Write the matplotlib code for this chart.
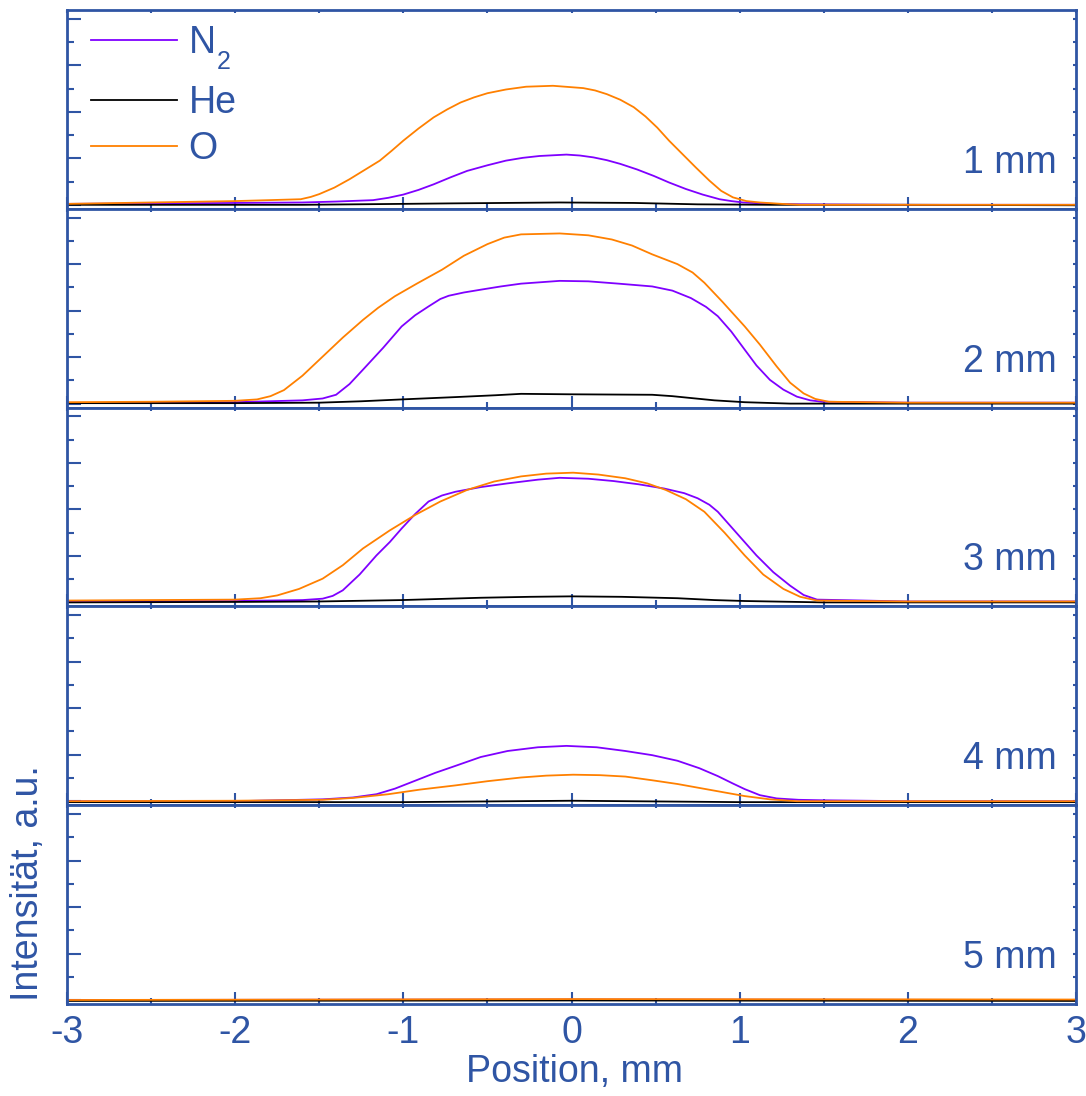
import matplotlib
matplotlib.use('Agg')
import matplotlib.pyplot as plt
from matplotlib.lines import Line2D
from matplotlib.ticker import MultipleLocator, NullFormatter

blue = '#2F55A4'
c_n2 = '#7F00FF'
c_he = '#000000'
c_o = '#FF8000'
fs = 27

plt.rcParams['font.family'] = ['Liberation Sans', 'DejaVu Sans']

labels = ['1 mm', '2 mm', '3 mm', '4 mm', '5 mm']
xticks = [-3, -2, -1, 0, 1, 2, 3]

# 1 mm
n2_1_x = [-3.0, -2.0, -1.6, -1.4, -1.18, -1.09, -1.0, -0.91, -0.82, -0.72, -0.62, -0.5, -0.39, -0.29, -0.19, -0.03, 0.05, 0.13, 0.21, 0.29, 0.39, 0.49, 0.58, 0.68, 0.78, 0.88, 0.95, 1.02, 1.2, 1.36, 2.0, 3.0]
n2_1_y = [0.02, 0.04, 0.05, 0.07, 0.10, 0.15, 0.22, 0.32, 0.44, 0.59, 0.73, 0.85, 0.95, 1.01, 1.05, 1.08, 1.06, 1.02, 0.96, 0.88, 0.76, 0.62, 0.48, 0.34, 0.22, 0.12, 0.08, 0.05, 0.02, 0.01, 0.0, 0.0]
he_1_x = [-3.0, -2.0, -1.6, -1.0, -0.73, -0.07, 0.37, 0.75, 1.2, 2.0, 3.0]
he_1_y = [0.0, 0.0, 0.0, 0.02, 0.03, 0.05, 0.04, 0.01, 0.0, 0.0, -0.01]
o_1_x = [-3.0, -2.0, -1.8, -1.61, -1.55, -1.5, -1.41, -1.32, -1.23, -1.14, -1.07, -1.0, -0.91, -0.82, -0.74, -0.66, -0.58, -0.5, -0.39, -0.27, -0.11, 0.07, 0.14, 0.21, 0.29, 0.37, 0.44, 0.51, 0.58, 0.66, 0.74, 0.82, 0.89, 0.96, 1.04, 1.12, 1.25, 1.36, 2.0, 3.0]
o_1_y = [0.02, 0.08, 0.10, 0.12, 0.17, 0.23, 0.37, 0.55, 0.75, 0.95, 1.16, 1.38, 1.64, 1.88, 2.05, 2.20, 2.31, 2.40, 2.48, 2.54, 2.56, 2.51, 2.46, 2.38, 2.26, 2.10, 1.90, 1.66, 1.38, 1.09, 0.80, 0.52, 0.30, 0.16, 0.08, 0.05, 0.02, 0.0, 0.0, 0.0]

# 2 mm
n2_2_x = [-3.0, -2.0, -1.6, -1.48, -1.40, -1.32, -1.24, -1.12, -1.01, -0.93, -0.85, -0.78, -0.73, -0.64, -0.54, -0.42, -0.3, -0.07, 0.1, 0.28, 0.48, 0.6, 0.71, 0.8, 0.87, 0.95, 1.03, 1.1, 1.18, 1.26, 1.34, 1.42, 1.49, 2.0, 3.0]
n2_2_y = [0.01, 0.03, 0.07, 0.11, 0.19, 0.42, 0.73, 1.20, 1.66, 1.90, 2.09, 2.25, 2.32, 2.39, 2.45, 2.52, 2.58, 2.64, 2.63, 2.58, 2.52, 2.43, 2.27, 2.08, 1.88, 1.55, 1.16, 0.82, 0.51, 0.30, 0.15, 0.07, 0.04, 0.02, 0.02]
he_2_x = [-3.0, -2.0, -1.5, -1.25, -1.01, -0.69, -0.45, -0.3, 0.0, 0.48, 0.6, 0.71, 0.85, 1.03, 1.3, 2.0, 3.0]
he_2_y = [0.01, 0.01, 0.02, 0.05, 0.09, 0.14, 0.18, 0.21, 0.20, 0.19, 0.16, 0.12, 0.07, 0.03, 0.0, 0.0, 0.0]
o_2_x = [-3.0, -2.5, -2.0, -1.87, -1.79, -1.71, -1.6, -1.48, -1.36, -1.24, -1.15, -1.05, -0.92, -0.77, -0.64, -0.5, -0.4, -0.3, -0.07, 0.1, 0.24, 0.36, 0.48, 0.63, 0.72, 0.79, 0.9, 1.03, 1.12, 1.22, 1.3, 1.38, 1.45, 1.53, 2.0, 3.0]
o_2_y = [0.03, 0.04, 0.06, 0.09, 0.16, 0.29, 0.60, 1.01, 1.42, 1.80, 2.06, 2.31, 2.58, 2.88, 3.18, 3.43, 3.57, 3.64, 3.66, 3.62, 3.53, 3.40, 3.21, 3.0, 2.82, 2.6, 2.18, 1.66, 1.27, 0.80, 0.45, 0.22, 0.10, 0.04, 0.02, 0.02]

# 3 mm
n2_3_x = [-3.0, -2.0, -1.6, -1.48, -1.42, -1.36, -1.26, -1.16, -1.08, -1.01, -0.93, -0.85, -0.77, -0.69, -0.54, -0.38, -0.2, -0.07, 0.1, 0.25, 0.40, 0.55, 0.67, 0.75, 0.82, 0.87, 0.98, 1.10, 1.20, 1.30, 1.38, 1.46, 2.0, 3.0]
n2_3_y = [0.02, 0.03, 0.05, 0.08, 0.14, 0.26, 0.60, 1.01, 1.30, 1.59, 1.90, 2.17, 2.30, 2.38, 2.48, 2.56, 2.64, 2.68, 2.66, 2.61, 2.54, 2.45, 2.35, 2.24, 2.10, 1.95, 1.50, 1.01, 0.65, 0.36, 0.16, 0.06, 0.02, 0.02]
he_3_x = [-3.0, -2.0, -1.5, -1.01, -0.54, -0.25, 0.0, 0.3, 0.63, 0.85, 1.03, 1.5, 3.0]
he_3_y = [0.0, 0.01, 0.02, 0.05, 0.10, 0.12, 0.13, 0.12, 0.09, 0.05, 0.03, 0.0, 0.0]
o_3_x = [-3.0, -2.0, -1.85, -1.75, -1.62, -1.48, -1.36, -1.24, -1.08, -0.93, -0.78, -0.62, -0.46, -0.3, -0.15, 0.01, 0.16, 0.32, 0.45, 0.56, 0.68, 0.79, 0.91, 1.03, 1.14, 1.26, 1.36, 1.46, 2.0, 3.0]
o_3_y = [0.04, 0.06, 0.09, 0.15, 0.29, 0.51, 0.80, 1.16, 1.55, 1.88, 2.17, 2.42, 2.60, 2.71, 2.77, 2.79, 2.75, 2.67, 2.56, 2.42, 2.22, 1.95, 1.50, 1.01, 0.60, 0.29, 0.12, 0.04, 0.02, 0.02]

# 4 mm
n2_4_x = [-3.0, -2.0, -1.48, -1.30, -1.16, -1.05, -0.93, -0.81, -0.69, -0.54, -0.38, -0.2, -0.03, 0.15, 0.32, 0.48, 0.63, 0.76, 0.87, 0.96, 1.03, 1.12, 1.22, 1.35, 1.49, 2.0, 3.0]
n2_4_y = [0.0, 0.0, 0.04, 0.08, 0.15, 0.27, 0.44, 0.61, 0.76, 0.95, 1.08, 1.16, 1.19, 1.16, 1.08, 0.99, 0.87, 0.71, 0.54, 0.38, 0.26, 0.13, 0.06, 0.03, 0.02, 0.0, 0.0]
he_4_x = [-3.0, -1.0, 0.0, 1.0, 3.0]
he_4_y = [-0.02, -0.02, 0.01, -0.02, -0.02]
o_4_x = [-3.0, -2.0, -1.48, -1.3, -1.09, -0.9, -0.69, -0.5, -0.3, -0.15, 0.01, 0.17, 0.32, 0.48, 0.63, 0.83, 1.03, 1.18, 1.34, 2.0, 3.0]
o_4_y = [0.0, 0.01, 0.03, 0.07, 0.15, 0.25, 0.34, 0.43, 0.51, 0.55, 0.57, 0.56, 0.53, 0.45, 0.37, 0.24, 0.11, 0.04, 0.0, 0.0, 0.0]

# 5 mm
n2_5_x = [-3.0, 0.0, 3.0]
n2_5_y = [0.0, 0.01, 0.0]
he_5_x = [-3.0, 0.0, 3.0]
he_5_y = [-0.02, -0.01, -0.02]
o_5_x = [-3.0, 0.0, 3.0]
o_5_y = [0.0, 0.02, 0.01]

panels = [
    ((n2_1_x, n2_1_y), (he_1_x, he_1_y), (o_1_x, o_1_y)),
    ((n2_2_x, n2_2_y), (he_2_x, he_2_y), (o_2_x, o_2_y)),
    ((n2_3_x, n2_3_y), (he_3_x, he_3_y), (o_3_x, o_3_y)),
    ((n2_4_x, n2_4_y), (he_4_x, he_4_y), (o_4_x, o_4_y)),
    ((n2_5_x, n2_5_y), (he_5_x, he_5_y), (o_5_x, o_5_y)),
]

W, H = 1086, 1096
fig, axs = plt.subplots(5, 1, figsize=(W / 100, H / 100), dpi=100, sharex=True)
fig.subplots_adjust(left=67 / W, right=1076 / W, top=1 - 10 / H, bottom=1 - 1004 / H, hspace=0)

for ax, data, lab in zip(axs, panels, labels):
    (nx, ny), (hx, hy), (ox, oy) = data
    ax.plot(nx, ny, color=c_n2, lw=1.3)
    ax.plot(hx, hy, color=c_he, lw=1.3)
    ax.plot(ox, oy, color=c_o, lw=1.3)
    ax.set_xlim(-3, 3)
    ax.set_ylim(-0.086, 4.19)
    for s in ax.spines.values():
        s.set_color(blue)
        s.set_linewidth(2)
    ax.xaxis.set_major_locator(MultipleLocator(1))
    ax.xaxis.set_minor_locator(MultipleLocator(0.5))
    ax.yaxis.set_major_locator(MultipleLocator(1))
    ax.yaxis.set_minor_locator(MultipleLocator(0.5))
    ax.yaxis.set_major_formatter(NullFormatter())
    ax.tick_params(axis='both', which='both', direction='in', color=blue, width=1.5,
                   labelcolor=blue, labelsize=fs, top=True, right=True)
    ax.tick_params(axis='x', which='major', length=9, pad=8)
    ax.tick_params(axis='x', which='minor', length=4)
    ax.tick_params(axis='y', which='major', length=10)
    ax.tick_params(axis='y', which='minor', length=5)
    # short ticks on top and right
    for t in ax.xaxis.get_major_ticks() + ax.xaxis.get_minor_ticks():
        t.tick2line.set_markersize(2)
    for t in ax.yaxis.get_major_ticks() + ax.yaxis.get_minor_ticks():
        t.tick2line.set_markersize(2)
    ax.text(0.981, 0.181, lab, transform=ax.transAxes, ha='right', va='baseline',
            fontsize=fs, color=blue)

axs[-1].set_xticks(xticks)
axs[-1].set_xticklabels([str(v) for v in xticks])

# legend: N2 row on its own (its subscript makes the row taller), then He and O
ax0 = axs[0]
hx0 = (91 - 67) / 1009
leg_kw = dict(loc='upper left', frameon=False, fontsize=fs, handlelength=2.3,
              handletextpad=0.3, borderaxespad=0, borderpad=0)
leg1 = ax0.legend([Line2D([], [], color=c_n2, lw=1.3)], ['N'],
                  bbox_to_anchor=(hx0, 1 - 15 / 198.8), **leg_kw)
ax0.add_artist(leg1)
leg2 = ax0.legend([Line2D([], [], color=c_he, lw=1.3), Line2D([], [], color=c_o, lw=1.3)],
                  ['He', 'O'], bbox_to_anchor=(hx0, 1 - 75 / 198.8),
                  labelspacing=0.27, **leg_kw)
for lg in (leg1, leg2):
    for t in lg.get_texts():
        t.set_color(blue)
ax0.annotate('2', xy=(1, 0), xycoords=leg1.get_texts()[0], xytext=(1, -6),
             textcoords='offset points', ha='left', va='baseline',
             fontsize=18, color=blue, zorder=10)

fig.text(28 / W, 1 - 883 / H, 'Intensität, a.u.', rotation=90, ha='center', va='center',
         fontsize=fs, color=blue)
fig.text(575 / W, 1 - 1082 / H, 'Position, mm', ha='center', va='baseline',
         fontsize=fs, color=blue)

fig.savefig('out.png', dpi=100)
